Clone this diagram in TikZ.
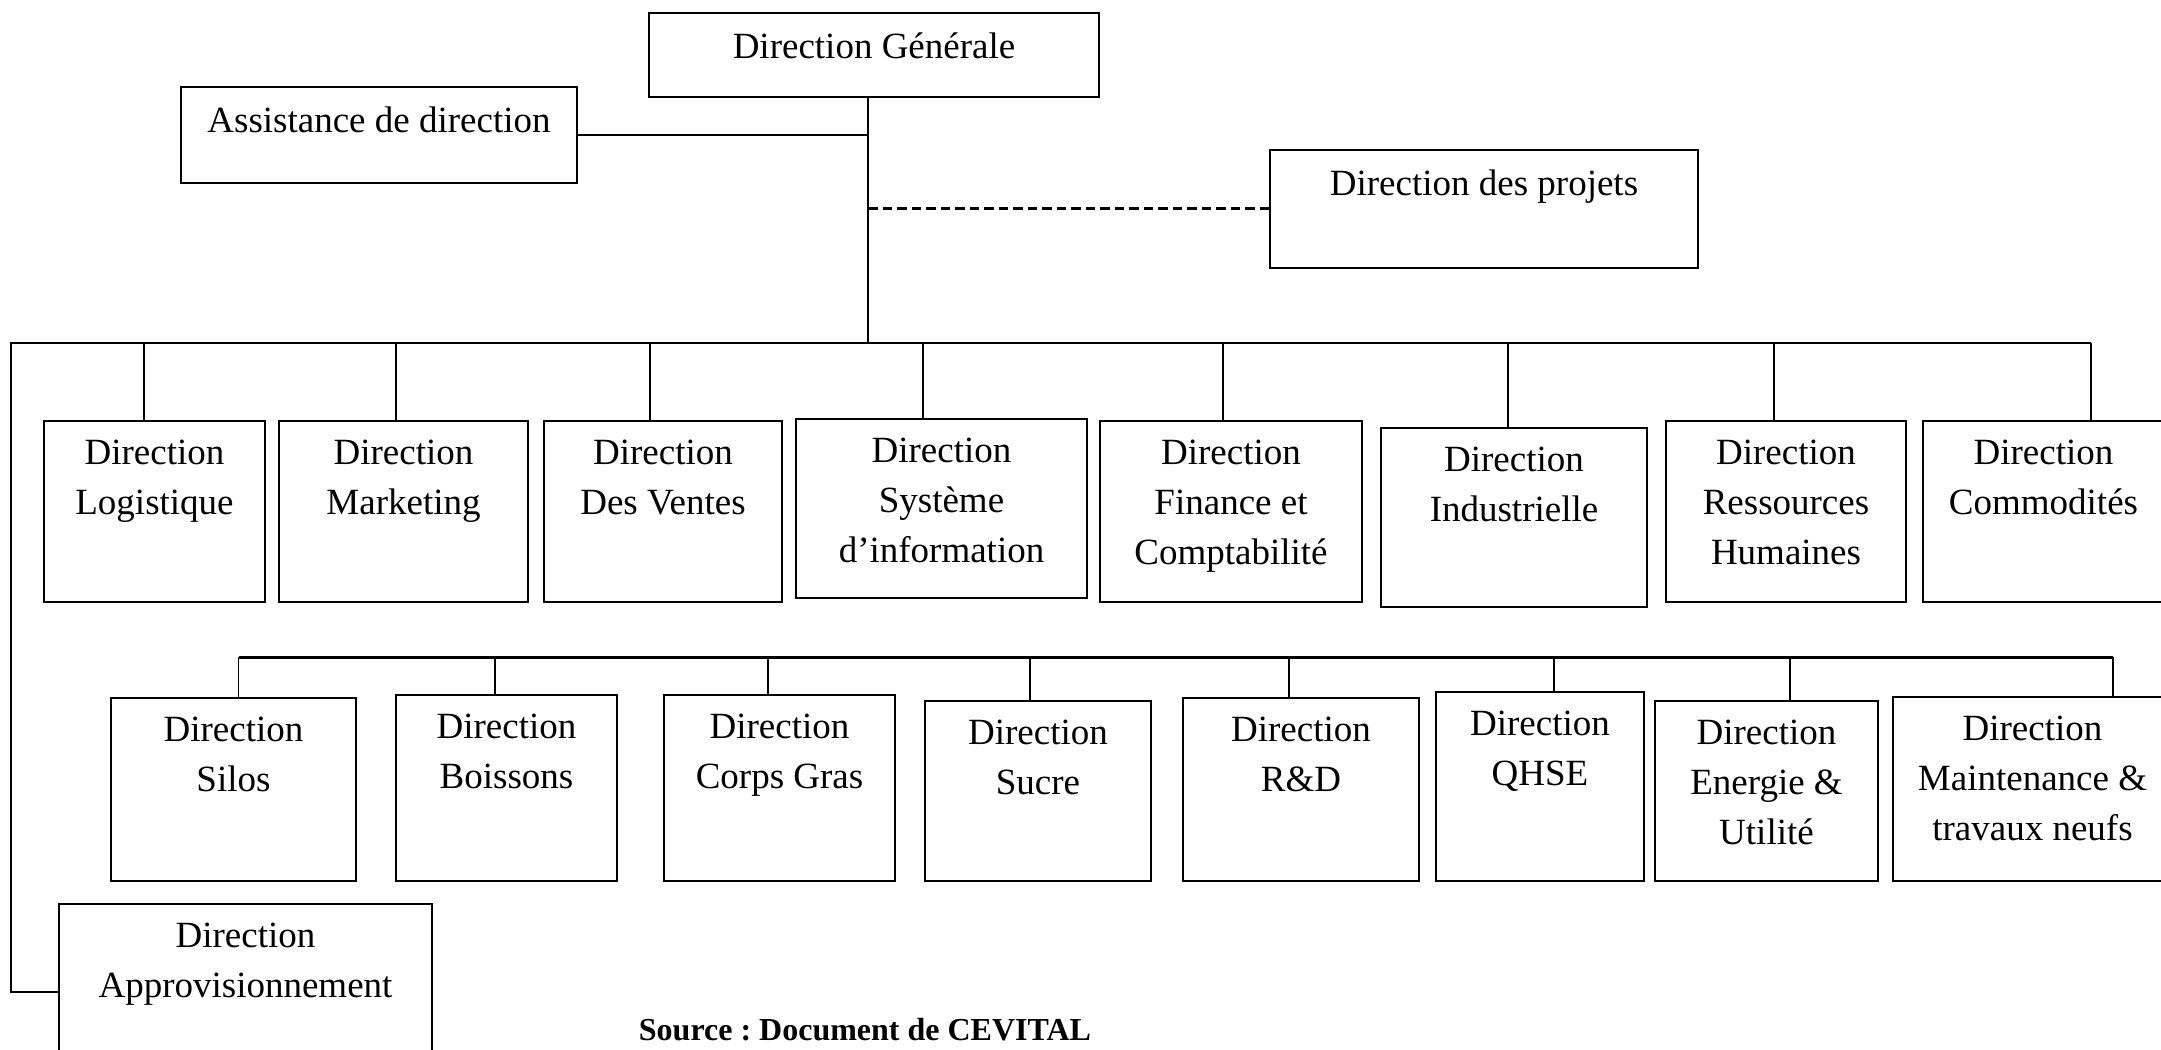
\documentclass[tikz,border=0pt]{standalone}
\usepackage{fontspec}
\setmainfont{Liberation Serif}
\frenchspacing
\usetikzlibrary{fit}
\tikzset{
  dirbox/.style={draw,line width=0.8pt,inner sep=0pt},
  dirtext/.style={anchor=north,align=center,inner sep=0pt,font=\fontsize{14.8}{20}\selectfont},
  link/.style={line width=0.75pt},
  bar/.style={line width=0.9pt},
}
\begin{document}
\begin{tikzpicture}[x=0.4pt,y=-0.4pt]
    \path[use as bounding box] (0,0) rectangle (2161,1050);
    \clip (0,0) rectangle (2161,1050);
    % top of the chart
    \foreach \n/\xa/\ya/\xb/\yb/\t in {dg/649/13/1099/97/Direction Générale,
        assist/181/87/577/183/Assistance de direction,
        projets/1270/150/1698/268/Direction des projets,
        appro/59/904/432/1080/Direction\\Approvisionnement} {
      \node[dirbox,fit={(\xa,\ya) (\xb,\yb)}] (\n) {};
      \node[dirtext] (\n-t) at ([yshift=-8pt]\n.north) {\t};
    };
    \coordinate (trunk) at (868,343);
    \coordinate (barw) at (11,343);
    \coordinate (bare) at (2091,343);
    \coordinate (bar2w) at (238.5,657.5);
    \coordinate (bar2e) at (2113,657.5);
    \draw[link] (dg.south -| trunk) -- (trunk);
    \draw[link] (assist.east) -- (assist.east -| trunk);
    \draw[line width=1.2pt,dash pattern=on 3.7pt off 2.1pt] (projets.west) -- (projets.west -| trunk);
    \draw[bar] (bare) -- (barw) |- (appro.west);
    \draw[bar] (bar2w) -- (bar2e);
    % first row
    \foreach \n/\xa/\ya/\xb/\yb/\cx/\t in {logist/44/421/265/602/144/Direction\\Logistique,
        market/279/421/528/602/396/Direction\\Marketing,
        ventes/544/421/782/602/650/Direction\\Des Ventes,
        sysinfo/796/419/1087/598/923/Direction\\Système\\d’information,
        finance/1100/421/1362/602/1223/Direction\\Finance et\\Comptabilité,
        indus/1381/428/1647/607/1508/Direction\\Industrielle,
        rh/1666/421/1906/602/1774/Direction\\Ressources\\Humaines,
        commod/1923/421/2164/602/2091/Direction\\Commodités} {
      \node[dirbox,fit={(\xa,\ya) (\xb,\yb)}] (\n) {};
      \node[dirtext] (\n-t) at ([yshift=-8pt]\n.north) {\t};
      \coordinate (\n-c) at (\cx,343);
      \draw[link] (\n-c) -- (\n.north -| \n-c);
    };
    % second row
    \foreach \n/\xa/\ya/\xb/\yb/\cx/\t in {silos/111/698/356/881/238.5/Direction\\Silos,
        boissons/396/695/617/881/495/Direction\\Boissons,
        corps/664/695/895/881/768/Direction\\Corps Gras,
        sucre/925/701/1151/881/1030/Direction\\Sucre,
        rd/1183/698/1419/881/1289/Direction\\R\&D,
        qhse/1436/692/1644/881/1554/Direction\\QHSE,
        energie/1655/701/1878/881/1790/Direction\\Energie \&\\Utilité,
        maint/1893/697/2172/881/2113/Direction\\Maintenance \&\\travaux neufs} {
      \node[dirbox,fit={(\xa,\ya) (\xb,\yb)}] (\n) {};
      \node[dirtext] (\n-t) at ([yshift=-8pt]\n.north) {\t};
      \coordinate (\n-c) at (\cx,657.5);
      \draw[link] (\n-c) -- (\n.north -| \n-c);
    };
    \node[inner sep=0pt,font=\fontsize{12.8}{15}\selectfont\bfseries] (source) at (865,1030) {Source : Document de CEVITAL};
\end{tikzpicture}
\end{document}
